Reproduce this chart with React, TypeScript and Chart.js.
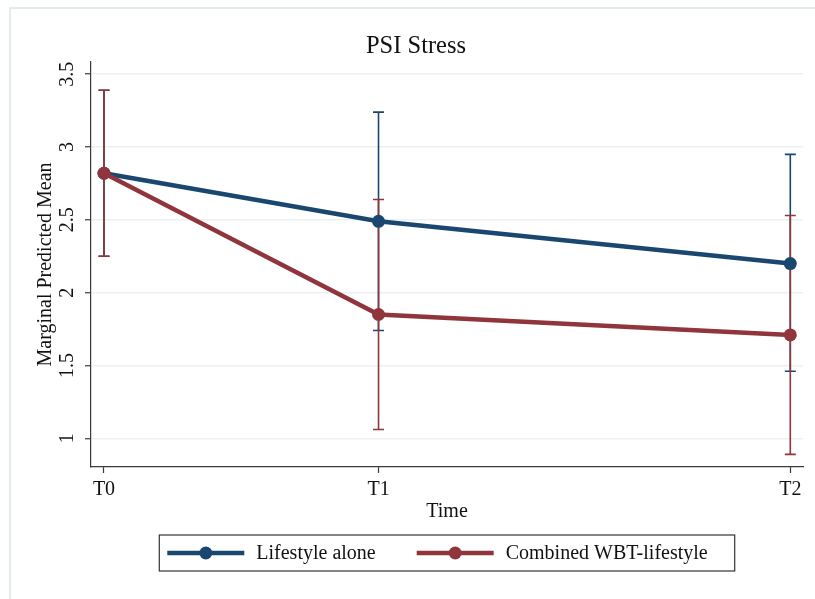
import React, { useEffect, useRef } from "react";
import { Chart, registerables } from "chart.js";
Chart.register(...registerables);

const TITLE = "PSI Stress";
const Y_TITLE = "Marginal Predicted Mean";
const X_TITLE = "Time";
const TIME_LABELS = ["T0", "T1", "T2"];
const TIME_VALUES = [0, 2, 5];
const Y_TICKS = [1, 1.5, 2, 2.5, 3, 3.5];
const Y_TICK_LABELS = ["1", "1.5", "2", "2.5", "3", "3.5"];
const SERIES_NAMES = ["Lifestyle alone", "Combined WBT-lifestyle"];
const LIFESTYLE_MEAN = [2.82, 2.49, 2.2];
const LIFESTYLE_LOW = [2.25, 1.74, 1.46];
const LIFESTYLE_HIGH = [3.39, 3.24, 2.95];
const COMBINED_MEAN = [2.82, 1.85, 1.71];
const COMBINED_LOW = [2.25, 1.06, 0.89];
const COMBINED_HIGH = [3.39, 2.64, 2.53];

const BLUE = "#1a476f";
const RED = "#90353b";
const FONT = "'Liberation Serif', 'Times New Roman', serif";
const AXIS = "#3a3a3a";
const GRID = "#eaf1f3";
const LABEL_SIZE = 20;

const SERIES = [
  { name: SERIES_NAMES[0], mean: LIFESTYLE_MEAN, low: LIFESTYLE_LOW, high: LIFESTYLE_HIGH, color: BLUE },
  { name: SERIES_NAMES[1], mean: COMBINED_MEAN, low: COMBINED_LOW, high: COMBINED_HIGH, color: RED },
];

const decorPlugin = {
  id: "decor",
  beforeDraw(chart: any) {
    const ctx = chart.ctx;
    ctx.save();
    ctx.fillStyle = "#ffffff";
    ctx.fillRect(0, 0, chart.width, chart.height);
    ctx.strokeStyle = "#e3ebed";
    ctx.lineWidth = 2;
    ctx.strokeRect(10, 8, chart.width + 20, chart.height + 20);
    ctx.restore();
  },
  beforeDatasetsDraw(chart: any) {
    const ctx = chart.ctx;
    const xs = chart.scales.x;
    const ys = chart.scales.y;
    ctx.save();
    ctx.lineWidth = 1.6;
    SERIES.forEach((s) => {
      ctx.strokeStyle = s.color;
      TIME_VALUES.forEach((t, i) => {
        const x = xs.getPixelForValue(t);
        const yl = ys.getPixelForValue(s.low[i]);
        const yh = ys.getPixelForValue(s.high[i]);
        ctx.beginPath();
        ctx.moveTo(x, yl);
        ctx.lineTo(x, yh);
        ctx.moveTo(x - 5.5, yl);
        ctx.lineTo(x + 5.5, yl);
        ctx.moveTo(x - 5.5, yh);
        ctx.lineTo(x + 5.5, yh);
        ctx.stroke();
      });
    });
    ctx.restore();
  },
  afterDraw(chart: any) {
    const ctx = chart.ctx;
    const area = chart.chartArea;
    const ys = chart.scales.y;
    ctx.save();
    ctx.fillStyle = "#111";
    // title
    ctx.font = `24.5px ${FONT}`;
    ctx.textAlign = "center";
    ctx.textBaseline = "alphabetic";
    ctx.fillText(TITLE, 416, 53);
    // x title
    ctx.font = `${LABEL_SIZE}px ${FONT}`;
    ctx.fillText(X_TITLE, (area.left + area.right) / 2, 517);
    // y title
    ctx.save();
    ctx.translate(46, (area.top + area.bottom) / 2);
    ctx.rotate(-Math.PI / 2);
    ctx.textBaseline = "middle";
    ctx.fillText(Y_TITLE, 0, 0);
    ctx.restore();
    // y tick labels
    Y_TICKS.forEach((v, i) => {
      const y = ys.getPixelForValue(v);
      ctx.save();
      ctx.translate(68, y);
      ctx.rotate(-Math.PI / 2);
      ctx.textAlign = "center";
      ctx.textBaseline = "middle";
      ctx.fillText(Y_TICK_LABELS[i], 0, 0);
      ctx.restore();
    });
    // legend
    ctx.font = `${LABEL_SIZE}px ${FONT}`;
    const lineLen = 77;
    const textGap = 12;
    const itemGap = 41;
    const widths = SERIES.map((s) => ctx.measureText(s.name).width);
    let total = 0;
    widths.forEach((w, i) => {
      total += lineLen + textGap + w + (i < widths.length - 1 ? itemGap : 0);
    });
    const padL = 8;
    const padR = 27;
    const boxW = total + padL + padR;
    const cx = (area.left + area.right) / 2;
    const bx = cx - boxW / 2;
    const by = 535;
    const bh = 36;
    ctx.strokeStyle = "#333";
    ctx.lineWidth = 1.2;
    ctx.strokeRect(bx, by, boxW, bh);
    let x = bx + padL;
    const ly = by + bh / 2;
    SERIES.forEach((s, i) => {
      ctx.strokeStyle = s.color;
      ctx.lineWidth = 4.5;
      ctx.beginPath();
      ctx.moveTo(x, ly);
      ctx.lineTo(x + lineLen, ly);
      ctx.stroke();
      ctx.fillStyle = s.color;
      ctx.beginPath();
      ctx.arc(x + lineLen / 2, ly, 6.5, 0, Math.PI * 2);
      ctx.fill();
      ctx.fillStyle = "#111";
      ctx.textAlign = "left";
      ctx.textBaseline = "middle";
      ctx.fillText(s.name, x + lineLen + textGap, ly + 1);
      x += lineLen + textGap + widths[i] + itemGap;
    });
    ctx.restore();
  },
};

export default function App() {
  const ref = useRef<HTMLCanvasElement | null>(null);
  useEffect(() => {
    if (!ref.current) return;
    const chart = new Chart(ref.current, {
      type: "line",
      data: {
        datasets: SERIES.map((s, si) => ({
          label: s.name,
          data: TIME_VALUES.map((t, i) => ({ x: t, y: s.mean[i] })),
          borderColor: s.color,
          backgroundColor: s.color,
          pointBackgroundColor: s.color,
          pointBorderWidth: 0,
          pointRadius: 6.5,
          borderWidth: 4.5,
          tension: 0,
          fill: false,
          order: si === 0 ? 2 : 1,
        })),
      },
      options: {
        responsive: false,
        animation: false,
        layout: { padding: { top: 62, right: 12, left: 0, bottom: 0 } },
        plugins: { legend: { display: false }, title: { display: false }, tooltip: { enabled: false } },
        scales: {
          x: {
            type: "linear",
            min: -0.0947,
            max: 5.0925,
            afterBuildTicks: (scale: any) => {
              scale.ticks = TIME_VALUES.map((v) => ({ value: v }));
            },
            afterFit: (scale: any) => {
              scale.height = 132;
            },
            ticks: {
              autoSkip: false,
              maxRotation: 0,
              padding: 5,
              color: "#111",
              font: { family: FONT, size: LABEL_SIZE },
              callback: (v: any) => {
                const i = TIME_VALUES.indexOf(Number(v));
                return i >= 0 ? TIME_LABELS[i] : "";
              },
            },
            grid: { drawOnChartArea: false, drawTicks: true, tickLength: 6, tickColor: AXIS, tickWidth: 1.2 },
            border: { display: true, color: AXIS, width: 1.2 },
          },
          y: {
            type: "linear",
            min: 0.803,
            max: 3.584,
            afterBuildTicks: (scale: any) => {
              scale.ticks = Y_TICKS.map((v) => ({ value: v }));
            },
            afterFit: (scale: any) => {
              scale.width = 91;
            },
            ticks: { display: false },
            grid: { color: GRID, lineWidth: 1.5, drawTicks: true, tickLength: 6, tickColor: AXIS, tickWidth: 1.2 },
            border: { display: true, color: AXIS, width: 1.2 },
          },
        },
      },
      plugins: [decorPlugin],
    } as any);
    return () => chart.destroy();
  }, []);
  return (
    <div style={{ position: "absolute", left: 0, top: 0, width: 815, height: 599 }}>
      <canvas ref={ref} width={815} height={599} style={{ display: "block", width: 815, height: 599 }} />
    </div>
  );
}
